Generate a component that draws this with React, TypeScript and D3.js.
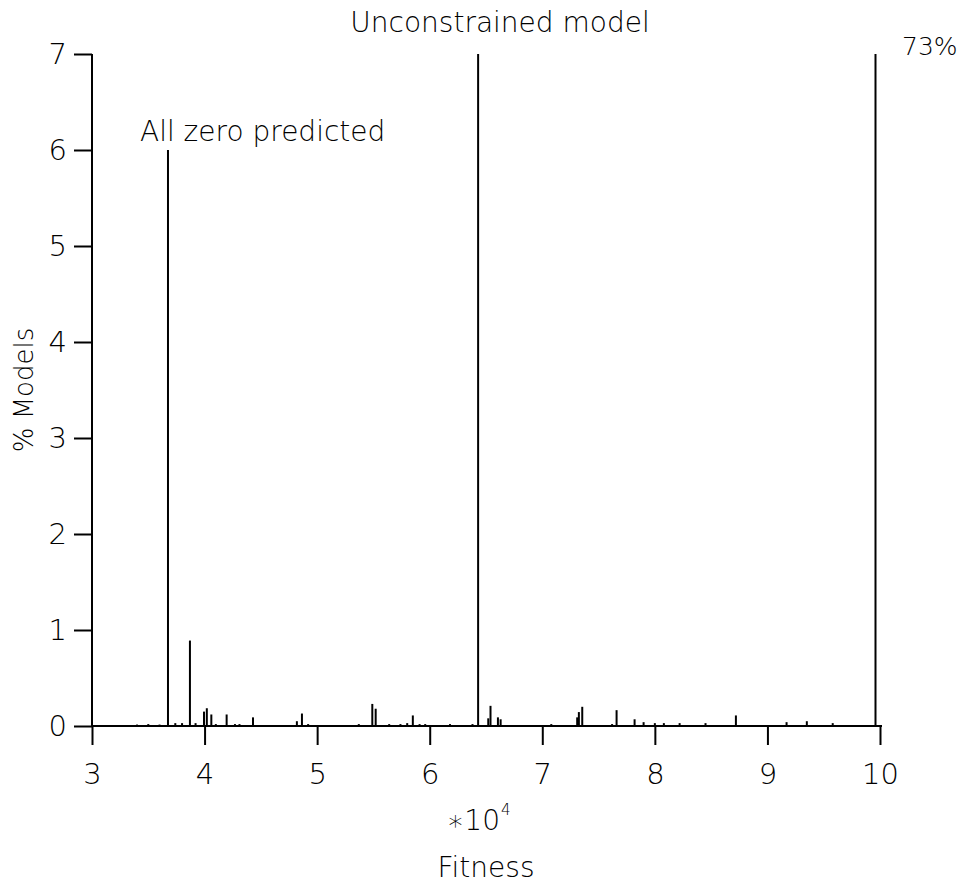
import React, { useRef, useEffect } from "react";
import * as d3 from "d3";

// x in units of 1e4 fitness, y in % of models
const xTicks = [3, 4, 5, 6, 7, 8, 9, 10];
const yTicks = [0, 1, 2, 3, 4, 5, 6, 7];

const spikeFitness = [
  3.40, 3.50, 3.60, 3.675, 3.74, 3.80, 3.87, 3.92, 3.995, 4.02, 4.06, 4.10, 4.196, 4.27, 4.31, 4.43,
  4.82, 4.865, 4.92, 5.30, 5.37, 5.49, 5.52, 5.64, 5.74, 5.80, 5.85, 5.91, 5.96, 6.18, 6.38, 6.43,
  6.52, 6.54, 6.606, 6.63, 7.08, 7.31, 7.325, 7.355, 7.62, 7.66, 7.82, 7.90, 8.00, 8.08, 8.22,
  8.45, 8.72, 9.17, 9.35, 9.58, 9.96,
];
const spikePct = [
  0.015, 0.02, 0.015, 6.0, 0.03, 0.03, 0.89, 0.03, 0.15, 0.185, 0.12, 0.02, 0.12, 0.02, 0.02, 0.09,
  0.05, 0.13, 0.02, 0.01, 0.02, 0.23, 0.18, 0.02, 0.02, 0.03, 0.11, 0.02, 0.02, 0.02, 0.02, 12,
  0.08, 0.21, 0.09, 0.07, 0.02, 0.09, 0.145, 0.2, 0.02, 0.165, 0.07, 0.04, 0.03, 0.03, 0.03,
  0.03, 0.11, 0.04, 0.05, 0.03, 73,
];

const baseStart = 3.36;
const baseEnd = 9.96;

const font = "'DejaVu Sans', sans-serif";

export default function App() {
  const ref = useRef<SVGSVGElement>(null);

  useEffect(() => {
    document.body.style.margin = "0";
    const width = 963;
    const height = 884;
    const margin = { top: 54, right: 83, bottom: 158, left: 92 };

    const svg = d3.select(ref.current).attr("width", width).attr("height", height);
    svg.selectAll("*").remove();

    const x = d3.scaleLinear().domain([3, 10]).range([margin.left, width - margin.right]);
    const y = d3.scaleLinear().domain([0, 7]).range([height - margin.bottom, margin.top]);

    svg.append("defs").append("clipPath").attr("id", "plot-clip")
      .append("rect")
      .attr("x", margin.left).attr("y", margin.top)
      .attr("width", width).attr("height", y(0) - margin.top + 1);

    const g = svg.append("g").attr("clip-path", "url(#plot-clip)");

    // baseline of the histogram
    g.append("line")
      .attr("x1", x(baseStart)).attr("x2", x(baseEnd))
      .attr("y1", y(0)).attr("y2", y(0))
      .attr("stroke", "#000").attr("stroke-width", 2);

    g.selectAll("line.spike")
      .data(spikeFitness.map((f, i) => ({ f, p: spikePct[i] })))
      .join("line")
      .attr("class", "spike")
      .attr("x1", (d) => x(d.f)).attr("x2", (d) => x(d.f))
      .attr("y1", y(0)).attr("y2", (d) => y(d.p))
      .attr("stroke", "#000").attr("stroke-width", 2);

    const styleText = (sel: any, size: number) =>
      sel.attr("font-family", font).attr("font-size", size).attr("font-weight", 200).attr("fill", "#000");

    // x axis
    const xa = svg.append("g").attr("transform", `translate(0,${y(0)})`)
      .call(d3.axisBottom(x).tickValues(xTicks).tickSize(19).tickPadding(18).tickFormat(d3.format("d")));
    xa.select(".domain").attr("d", `M${x(3)},0H${x(10) + 2}`).attr("stroke-width", 2);
    xa.selectAll(".tick line").attr("stroke-width", 2);
    styleText(xa.selectAll("text"), 29);

    // y axis
    const ya = svg.append("g").attr("transform", `translate(${margin.left},0)`)
      .call(d3.axisLeft(y).tickValues(yTicks).tickSize(18).tickPadding(7).tickFormat(d3.format("d")));
    ya.select(".domain").attr("d", `M0,${y(7)}V${y(0)}`).attr("stroke-width", 2);
    ya.selectAll(".tick line").attr("stroke-width", 2);
    styleText(ya.selectAll("text"), 29);

    const label = (txt: string, tx: number, ty: number, size: number, anchor = "middle") =>
      styleText(svg.append("text"), size)
        .attr("x", tx).attr("y", ty)
        .attr("text-anchor", anchor)
        .text(txt);

    label("Unconstrained model", 500, 32, 28);
    label("All zero predicted", 140, 141, 28, "start");
    label("73%", 902, 55, 25, "start");
    label("Fitness", 486, 877, 28);
    label("\u221710", 500, 830, 28, "end");
    label("4", 501, 815, 15, "start");

    styleText(svg.append("text"), 26)
      .attr("transform", `translate(33,${y(3.5)}) rotate(-90)`)
      .attr("text-anchor", "middle")
      .text("% Models");
  }, []);

  return <svg ref={ref} style={{ display: "block" }} />;
}
